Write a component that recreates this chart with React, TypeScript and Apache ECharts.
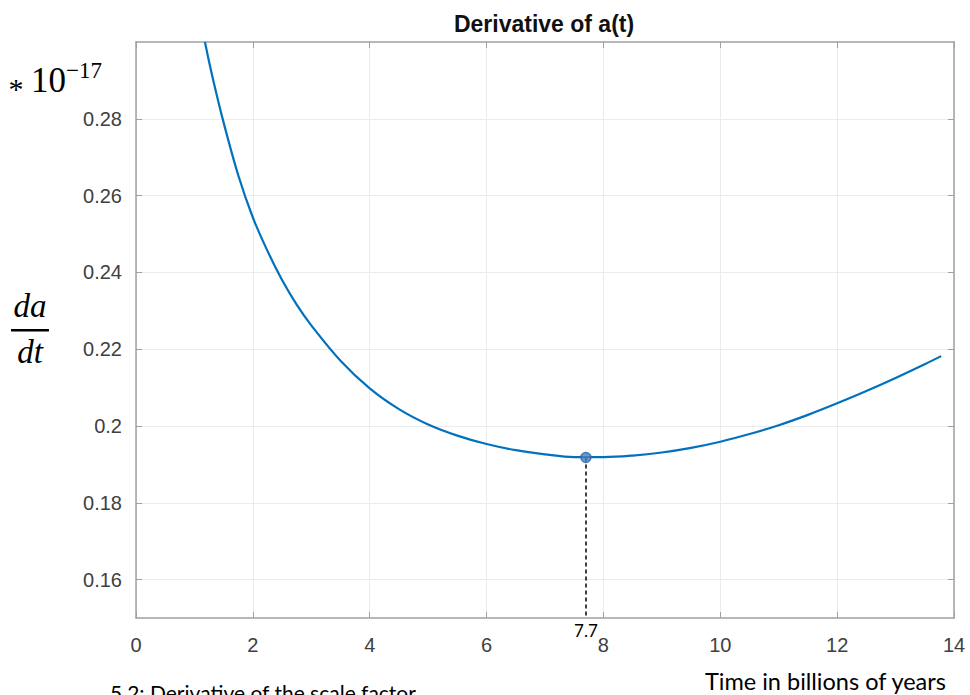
import React, { useEffect, useRef } from "react";
import * as echarts from "echarts";

// Time in billions of years
const timeValues = [
  1.18, 1.3, 1.5, 1.75, 2.0, 2.25, 2.5, 2.75, 3.0, 3.5, 4.0, 4.5, 5.0, 5.5, 6.0,
  6.5, 7.0, 7.5, 8.0, 8.5, 9.0, 9.5, 10.0, 10.5, 11.0, 11.5, 12.0, 12.5, 13.0,
  13.5, 13.78,
];
// da/dt (×10^-17)
const derivValues = [
  0.3, 0.2915, 0.279, 0.2653, 0.2543, 0.2456, 0.238, 0.2316, 0.2262, 0.217,
  0.2098, 0.2044, 0.2004, 0.1975, 0.1953, 0.1937, 0.1926, 0.1919, 0.1919,
  0.1923, 0.1931, 0.1943, 0.1959, 0.1979, 0.2002, 0.2029, 0.2059, 0.2091,
  0.2125, 0.2161, 0.2182,
];
const minPoint = [7.7, 0.1918];
const minLabel = "7.7";

const xRange = [0, 14];
const xStep = 2;
const yRange = [0.15, 0.3];
const yTickValues = [0.16, 0.18, 0.2, 0.22, 0.24, 0.26, 0.28];

const titleText = "Derivative of a(t)";
const xTitle = "Time in billions of years";
const captionText = "5.2: Derivative of the scale factor";

export default function App() {
  const ref = useRef<HTMLDivElement>(null);

  useEffect(() => {
    const chart = echarts.init(ref.current!, null, { renderer: "svg" });
    const axisColor = "#a0a0a0";
    const labelColor = "#404040";
    const gridColor = "#ebebeb";
    const lineBlue = "#0072BD";

    const axisLine = { show: true, onZero: false, lineStyle: { color: axisColor, width: 1.5 } };
    const tickStyle = { inside: true, length: 6, lineStyle: { color: axisColor, width: 1 } };

    const yFormatter = (v: number) => String(+v.toFixed(2));

    chart.setOption({
      animation: false,
      backgroundColor: "#ffffff",
      grid: { left: 136, right: 16, top: 42, bottom: 77, containLabel: false },
      xAxis: [
        {
          type: "value",
          min: xRange[0],
          max: xRange[1],
          interval: xStep,
          position: "bottom",
          axisLine,
          axisTick: { show: true, ...tickStyle },
          axisLabel: {
            color: labelColor,
            fontSize: 20,
            fontFamily: "Liberation Sans",
            margin: 17,
          },
          splitLine: { show: true, lineStyle: { color: gridColor, width: 1 } },
        },
        {
          type: "value",
          min: xRange[0],
          max: xRange[1],
          interval: xStep,
          position: "top",
          axisLine,
          axisTick: { show: true, ...tickStyle },
          axisLabel: { show: false },
          splitLine: { show: false },
        },
      ],
      yAxis: [
        {
          type: "value",
          min: yRange[0],
          max: yRange[1],
          position: "left",
          axisLine,
          axisTick: { show: true, ...tickStyle, customValues: yTickValues },
          axisLabel: {
            color: labelColor,
            fontSize: 20,
            fontFamily: "Liberation Sans",
            margin: 14,
            customValues: yTickValues,
            formatter: yFormatter,
          },
          splitLine: { show: true, lineStyle: { color: gridColor, width: 1 } },
        },
        {
          type: "value",
          min: yRange[0],
          max: yRange[1],
          position: "right",
          axisLine,
          axisTick: { show: true, ...tickStyle, customValues: yTickValues },
          axisLabel: { show: false, customValues: yTickValues },
          splitLine: { show: false },
        },
      ],
      series: [
        {
          type: "line",
          data: timeValues.map((t, i) => [t, derivValues[i]]),
          smooth: 0.35,
          showSymbol: false,
          clip: true,
          lineStyle: { color: lineBlue, width: 2.2 },
          z: 3,
        },
        {
          type: "scatter",
          data: [minPoint],
          symbol: "circle",
          symbolSize: 10,
          itemStyle: { color: "#4a80c0", borderColor: "#2a64a8", borderWidth: 1.5 },
          z: 5,
          markLine: {
            silent: true,
            symbol: ["none", "none"],
            lineStyle: { type: [4, 3], color: "#000000", width: 1.5 },
            label: {
              show: true,
              position: "end",
              distance: 4,
              formatter: minLabel,
              color: "#000000",
              fontSize: 17,
              fontFamily: "Lato",
            },
            data: [[{ coord: [minPoint[0], minPoint[1]] }, { coord: [minPoint[0], yRange[0]] }]],
          },
        },
      ],
      graphic: [
        {
          type: "text",
          x: 544,
          y: 24,
          style: {
            text: titleText,
            fontFamily: "Liberation Sans",
            fontWeight: "bold",
            fontSize: 23,
            fill: "#111111",
            align: "center",
            verticalAlign: "middle",
          },
        },
        {
          type: "text",
          x: 16,
          y: 88,
          style: {
            text: "*",
            fontFamily: "Liberation Serif",
            fontSize: 30,
            fill: "#000",
            align: "center",
            verticalAlign: "middle",
          },
        },
        {
          type: "text",
          x: 31,
          y: 80,
          style: {
            text: "10",
            fontFamily: "Liberation Serif",
            fontSize: 35,
            fill: "#000",
            align: "left",
            verticalAlign: "middle",
          },
        },
        {
          type: "text",
          x: 66,
          y: 70,
          style: {
            text: "\u221217",
            fontFamily: "Liberation Serif",
            fontSize: 23,
            fill: "#000",
            align: "left",
            verticalAlign: "middle",
          },
        },
        {
          type: "text",
          x: 30,
          y: 306,
          style: {
            text: "da",
            fontFamily: "Liberation Serif",
            fontStyle: "italic",
            fontSize: 33,
            fill: "#000",
            align: "center",
            verticalAlign: "middle",
          },
        },
        {
          type: "rect",
          shape: { x: 11, y: 329, width: 38, height: 2.5 },
          style: { fill: "#000" },
        },
        {
          type: "text",
          x: 30,
          y: 352,
          style: {
            text: "dt",
            fontFamily: "Liberation Serif",
            fontStyle: "italic",
            fontSize: 33,
            fill: "#000",
            align: "center",
            verticalAlign: "middle",
          },
        },
        {
          type: "text",
          x: 705,
          y: 681,
          style: {
            text: xTitle,
            fontFamily: "Lato",
            fontSize: 23.5,
            fill: "#000",
            align: "left",
            verticalAlign: "middle",
          },
        },
        {
          type: "text",
          x: 110,
          y: 692,
          style: {
            text: captionText,
            fontFamily: "Lato",
            fontSize: 21,
            fill: "#000",
            align: "left",
            verticalAlign: "middle",
          },
        },
      ],
    });

    return () => {
      chart.dispose();
    };
  }, []);

  return (
    <div
      ref={ref}
      style={{
        position: "fixed",
        left: 0,
        top: 0,
        width: 970,
        height: 695,
        overflow: "hidden",
        background: "#fff",
      }}
    />
  );
}
